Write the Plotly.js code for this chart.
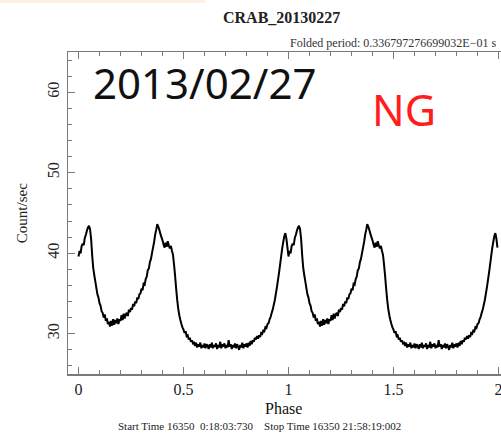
<!DOCTYPE html>
<html>
<head>
<meta charset="utf-8">
<script src="https://cdn.plot.ly/plotly-3.0.1.min.js"></script>
<style>
html,body{margin:0;padding:0;overflow:hidden;background:#fff;}
#chart{width:512px;height:434px;}
</style>
</head>
<body>
<div id="chart"></div>
<script>
// One folded cycle of count rate (Count/sec), 200 phase bins; plotted twice (phase 0-2)
const profile = [
  39.6, 40.3, 40.0, 40.9, 41.2, 41.0, 41.9, 42.3, 42.8, 43.2,
  43.4, 43.0, 41.8, 39.8, 38.2, 37.3, 36.5, 35.7, 34.9, 34.5,
  33.8, 33.5, 32.8, 32.6, 32.0, 32.4, 31.6, 31.9, 31.2, 31.5,
  30.9, 31.6, 31.0, 31.8, 31.1, 31.7, 31.3, 31.9, 31.2, 31.8,
  31.6, 32.3, 31.7, 32.5, 31.9, 32.4, 32.6, 32.2, 33.0, 32.7,
  33.2, 33.0, 33.7, 33.4, 34.0, 33.8, 34.5, 34.3, 34.9, 35.0,
  35.6, 35.4, 36.2, 36.1, 36.8, 37.1, 37.9, 38.1, 38.9, 39.3,
  40.0, 40.7, 41.4, 42.3, 42.9, 43.6, 43.3, 42.9, 42.4, 42.0,
  41.6, 41.1, 40.7, 41.3, 40.8, 41.5, 41.0, 40.6, 40.9, 40.3,
  39.8, 38.6, 37.2, 35.6, 34.2, 33.1, 32.3, 31.7, 31.2, 30.8,
  30.5, 30.1, 30.3, 29.7, 29.8, 29.3, 29.5, 29.0, 29.2, 28.8,
  28.9, 28.5, 28.9, 28.3, 28.7, 28.4, 28.9, 28.2, 28.6, 28.3,
  28.8, 28.2, 28.7, 28.5, 28.1, 28.7, 28.3, 28.9, 28.2, 28.6,
  28.4, 28.8, 28.1, 28.6, 28.3, 29.0, 28.2, 28.7, 28.4, 28.8,
  28.2, 28.6, 28.3, 29.2, 28.4, 28.7, 28.1, 28.6, 28.3, 28.8,
  28.2, 28.7, 28.4, 28.0, 28.6, 28.3, 28.9, 28.2, 28.7, 28.4,
  28.8, 28.3, 28.9, 28.5, 29.1, 28.7, 29.2, 29.0, 29.5, 29.3,
  29.7, 29.4, 29.8, 29.6, 30.1, 30.0, 30.4, 30.3, 30.8, 30.7,
  31.2, 31.3, 31.8, 32.1, 32.6, 33.0, 33.6, 34.2, 35.0, 35.8,
  36.7, 37.6, 38.6, 39.6, 40.6, 41.4, 42.1, 42.5, 41.8, 40.7
];
const cyclesShown = 2;
const xTickVals = [0, 0.5, 1, 1.5, 2];
const xTickText = ["0", "0.5", "1", "1.5", "2"];
const yTickVals = [30, 40, 50, 60];
const yTickText = ["30", "40", "50", "60"];
const titleText = "CRAB_20130227";
const periodText = "Folded period: 0.336797276699032E\u221201 s";
const timeText = "Start Time 16350  0:18:03:730    Stop Time 16350 21:58:19:002";
const dateLabel = "2013/02/27";
const statusLabel = "NG";

const phase = [], rate = [];
for (let c = 0; c < cyclesShown; c++) {
  profile.forEach((v, i) => { phase.push(c + i / profile.length); rate.push(v); });
}

const serif = "Liberation Serif, Times New Roman, serif";
const frame = "#7a7a7a";

const trace = {
  x: phase, y: rate, type: "scatter", mode: "lines",
  line: {color: "#000", width: 2.0, simplify: false},
  hoverinfo: "skip"
};

const axisCommon = {
  showgrid: false, zeroline: false, showline: true, linecolor: frame, linewidth: 1.5,
  mirror: "ticks", ticks: "inside", tickcolor: frame, tickwidth: 1.2, ticklen: 7,
  tickfont: {family: serif, size: 16, color: "#222"}
};

const layout = {
  width: 512, height: 434,
  margin: {l: 68, r: 3, t: 52, b: 60},
  paper_bgcolor: "#fff", plot_bgcolor: "#fff",
  showlegend: false,
  xaxis: Object.assign({}, axisCommon, {
    range: [-0.05, 2.05], tickvals: xTickVals, ticktext: xTickText,
    minor: {dtick: 0.1, tick0: 0, ticks: "inside", ticklen: 4, tickcolor: frame, tickwidth: 1}
  }),
  yaxis: Object.assign({}, axisCommon, {
    range: [25, 65], tickvals: yTickVals, ticktext: yTickText, tickangle: -90,
    ticklabelstandoff: 1,
    minor: {dtick: 2, tick0: 0, ticks: "inside", ticklen: 4, tickcolor: frame, tickwidth: 1}
  }),
  shapes: [
    {type: "rect", xref: "paper", yref: "paper", x0: -0.16, x1: 0.31, y0: 1.152, y1: 1.17,
     fillcolor: "#fdf0e0", line: {width: 0}, layer: "below"}
  ],
  annotations: [
    {text: titleText, xref: "paper", yref: "paper", x: 0.485, y: 1.106, xanchor: "center", yanchor: "middle",
     showarrow: false, font: {family: serif, size: 16, color: "#222", weight: "bold"}},
    {text: periodText, xref: "paper", yref: "paper", x: 0.974, y: 1.028, xanchor: "right", yanchor: "middle",
     showarrow: false, font: {family: serif, size: 12, color: "#333"}},
    {text: "Phase", xref: "paper", yref: "paper", x: 0.488, y: -0.107, xanchor: "center", yanchor: "middle",
     showarrow: false, font: {family: serif, size: 16, color: "#111"}},
    {text: timeText, xref: "paper", yref: "paper", x: 0.435, y: -0.161, xanchor: "center", yanchor: "middle",
     showarrow: false, font: {family: serif, size: 11, color: "#222"}},
    {text: "Count/sec", xref: "paper", yref: "paper", x: -0.104, y: 0.5, xanchor: "center", yanchor: "middle",
     textangle: -90, showarrow: false, font: {family: serif, size: 15, color: "#222"}},
    {text: dateLabel, xref: "paper", yref: "paper", x: 0.052, y: 0.905, xanchor: "left", yanchor: "middle",
     showarrow: false, font: {family: "Noto Sans, sans-serif", size: 42, color: "#111"}},
    {text: statusLabel, xref: "paper", yref: "paper", x: 0.761, y: 0.822, xanchor: "center", yanchor: "middle",
     showarrow: false, font: {family: "Noto Sans, sans-serif", size: 43, color: "#ff1c1c"}}
  ]
};

Plotly.newPlot("chart", [trace], layout, {displayModeBar: false, staticPlot: true});
</script>
</body>
</html>
